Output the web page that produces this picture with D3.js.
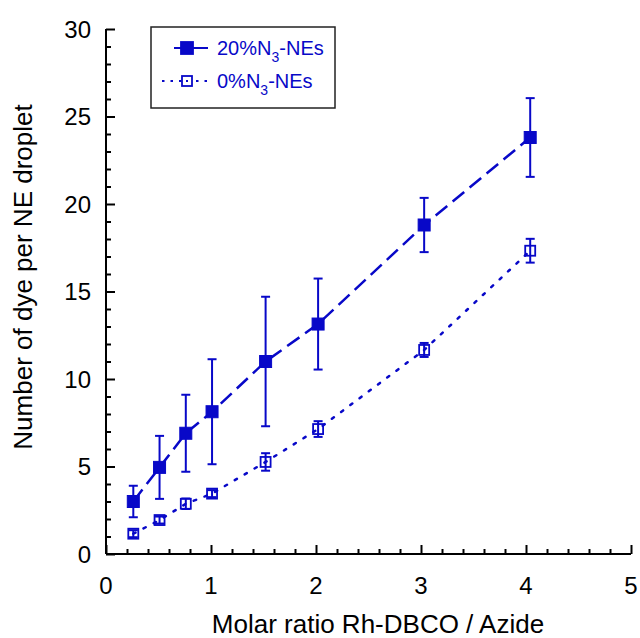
<!DOCTYPE html>
<html lang="en">
<head>
<meta charset="UTF-8">
<title>Dye per NE droplet</title>
<style>
  body { margin: 0; background: #fff; }
  text { font-family: "Liberation Sans", Arial, sans-serif; }
</style>
</head>
<body>
<svg id="chart"></svg>
<script src="https://cdn.jsdelivr.net/npm/d3@7"></script>
<script>
// Data
const ratios = [0.26, 0.51, 0.76, 1.01, 1.52, 2.02, 3.03, 4.04]
const dye20 = [3.0, 4.95, 6.9, 8.13, 11.0, 13.14, 18.8, 23.8]
const err20 = [0.9, 1.8, 2.2, 3.0, 3.7, 2.6, 1.55, 2.25]
const dye0 = [1.16, 1.94, 2.87, 3.45, 5.26, 7.14, 11.66, 17.33]
const err0 = [0.2, 0.2, 0.3, 0.2, 0.5, 0.45, 0.4, 0.68]
const xTicks = [0, 1, 2, 3, 4, 5]
const yTicks = [0, 5, 10, 15, 20, 25, 30]

const width = 640
const height = 638
const blue = "#0808c8"

const svg = d3.select("#chart").attr("width", width).attr("height", height)

const x = d3.scaleLinear().domain([0, 5]).range([106, 631])
const y = d3.scaleLinear().domain([0, 30]).range([554, 29])

// Axes (ticks point inward)
const xAxis = d3.axisBottom(x).tickValues(d3.range(0, 5.01, 0.2)).tickSize(-5).tickFormat("")
const gx = svg.append("g").attr("transform", `translate(0,${y(0)})`).call(xAxis)
gx.selectAll(".tick line").filter(d => Math.abs(d - Math.round(d)) < 1e-6).attr("y2", -9)

const yAxis = d3.axisLeft(y).tickValues(d3.range(0, 31, 1)).tickSize(-5).tickFormat("")
const gy = svg.append("g").attr("transform", `translate(${x(0)},0)`).call(yAxis)
gy.selectAll(".tick line").filter(d => d % 5 === 0).attr("x2", 9)

svg.selectAll(".domain").attr("stroke", "#000").attr("stroke-width", 2)
gx.select(".domain").attr("d", `M${x(0)},0H${x(5)}`)
gy.select(".domain").attr("d", `M0,${y(0)}V${y(30)}`)
svg.selectAll(".tick line").attr("stroke", "#000").attr("stroke-width", 2)

svg.append("g").selectAll("text").data(xTicks).join("text")
  .attr("x", d => x(d)).attr("y", 594)
  .attr("text-anchor", "middle").attr("font-size", 24).text(d => d)

svg.append("g").selectAll("text").data(yTicks).join("text")
  .attr("x", 91).attr("y", d => y(d) + 8.5)
  .attr("text-anchor", "end").attr("font-size", 24).text(d => d)

svg.append("text").attr("x", 378).attr("y", 633)
  .attr("text-anchor", "middle").attr("font-size", 26)
  .text("Molar ratio Rh-DBCO / Azide")

svg.append("text").attr("transform", "translate(32,277) rotate(-90)")
  .attr("text-anchor", "middle").attr("font-size", 26)
  .text("Number of dye per NE droplet")

// Series
const series = [
  { name: "20%", vals: dye20, errs: err20, dash: "15,7", filled: true, size: 12 },
  { name: "0%", vals: dye0, errs: err0, dash: "2.5,9", filled: false, size: 10 }
]

const line = d3.line().x(d => x(d[0])).y(d => y(d[1]))

series.forEach(s => {
  const pts = ratios.map((r, i) => [r, s.vals[i], s.errs[i]])
  const g = svg.append("g")

  g.append("path").datum(pts).attr("d", line)
    .attr("fill", "none").attr("stroke", blue).attr("stroke-width", 2.5)
    .attr("stroke-dasharray", s.dash).attr("stroke-linecap", s.filled ? "butt" : "round")

  const eb = g.selectAll(".err").data(pts).join("g")
  eb.append("line")
    .attr("x1", d => x(d[0])).attr("x2", d => x(d[0]))
    .attr("y1", d => y(d[1] - d[2])).attr("y2", d => y(d[1] + d[2]))
  eb.append("line")
    .attr("x1", d => x(d[0]) - 4.5).attr("x2", d => x(d[0]) + 4.5)
    .attr("y1", d => y(d[1] + d[2])).attr("y2", d => y(d[1] + d[2]))
  eb.append("line")
    .attr("x1", d => x(d[0]) - 4.5).attr("x2", d => x(d[0]) + 4.5)
    .attr("y1", d => y(d[1] - d[2])).attr("y2", d => y(d[1] - d[2]))
  eb.selectAll("line").attr("stroke", blue).attr("stroke-width", 2)

  g.selectAll("rect").data(pts).join("rect")
    .attr("x", d => x(d[0]) - s.size / 2).attr("y", d => y(d[1]) - s.size / 2)
    .attr("width", s.size).attr("height", s.size)
    .attr("fill", s.filled ? blue : "none")
    .attr("stroke", blue).attr("stroke-width", s.filled ? 1 : 1.8)
})

// Legend
const lg = svg.append("g")
lg.append("rect").attr("x", 151).attr("y", 27).attr("width", 184).attr("height", 81)
  .attr("fill", "#fff").attr("stroke", "#222").attr("stroke-width", 1.5)

const legendRows = [
  { label: "20%", cy: 48, dash: null, filled: true, size: 12 },
  { label: "0%", cy: 81, dash: "2.5,6", filled: false, size: 10 }
]
legendRows.forEach(r => {
  lg.append("line").attr("x1", r.filled ? 174 : 162).attr("x2", r.filled ? 208 : 213)
    .attr("y1", r.cy).attr("y2", r.cy)
    .attr("stroke", blue).attr("stroke-width", 2)
    .attr("stroke-dasharray", r.dash)
  lg.append("rect").attr("x", 187 - r.size / 2).attr("y", r.cy - r.size / 2)
    .attr("width", r.size).attr("height", r.size)
    .attr("fill", r.filled ? blue : "#fff").attr("stroke", blue).attr("stroke-width", 1.8)
  if (!r.filled) {
    lg.append("rect").attr("x", 186).attr("y", r.cy - 1).attr("width", 2).attr("height", 2).attr("fill", blue)
  }
  const t = lg.append("text").attr("x", 217).attr("y", r.cy + 7)
    .attr("font-size", 20).attr("fill", blue)
  t.append("tspan").text(r.label + "N")
  t.append("tspan").attr("font-size", 14).attr("dy", 7).text("3")
  t.append("tspan").attr("dy", -7).text("-NEs")
})
</script>
</body>
</html>
